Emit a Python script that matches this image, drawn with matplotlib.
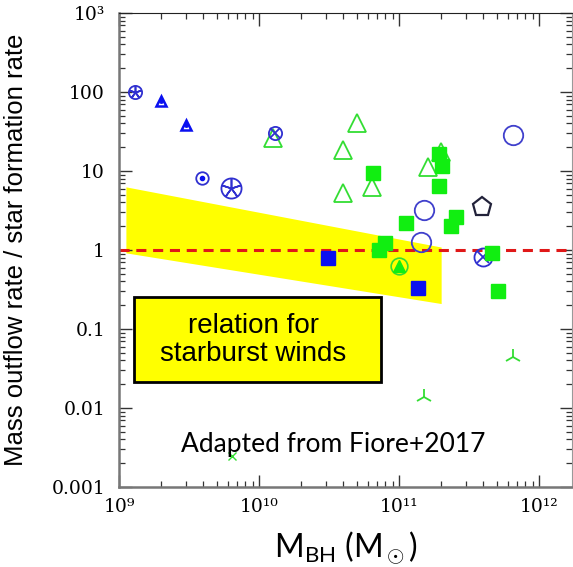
import numpy as np
import matplotlib
matplotlib.use("Agg")
import matplotlib.pyplot as plt
from matplotlib.patches import Rectangle
from matplotlib.ticker import LogLocator, NullFormatter, FixedLocator, FixedFormatter

plt.rcParams['mathtext.fontset'] = 'custom'
plt.rcParams['mathtext.rm'] = 'Lato'
plt.rcParams['mathtext.it'] = 'Lato:italic'

# ---- data (M_BH in Msun, ratio) ----
blue_circ_star_x = [1.3e9, 6.3e9]
blue_circ_star_y = [100, 6.1]
blue_circ_star_ms = [9.5, 14.5]

blue_tri_dot_x = [2.0e9, 3.0e9]
blue_tri_dot_y = [77, 38]

blue_circ_dot_x = [3.9e9]
blue_circ_dot_y = [8.1]

blue_circ_x_x = [1.3e10, 4.0e11]
blue_circ_x_y = [30, 0.81]
blue_circ_x_ms = [9.5, 13]

green_tri_x = [1.26e10, 5.0e10, 4.0e10, 4.0e10, 6.4e10, 1.6e11, 2.0e11]
green_tri_y = [26, 40, 18.5, 5.3, 6.3, 11.2, 17.4]

green_sq_x = [6.5e10, 1.93e11, 2.04e11, 1.93e11, 1.12e11, 2.55e11, 2.35e11,
              7.9e10, 7.2e10, 4.6e11, 5.1e11]
green_sq_y = [9.4, 16.4, 11.6, 6.5, 2.2, 2.6, 2.0, 1.23, 1.0, 0.92, 0.30]

blue_open_x = [6.5e11, 1.5e11, 1.44e11]
blue_open_y = [28.6, 3.2, 1.26]

blue_sq_x = [3.1e10, 1.37e11]
blue_sq_y = [0.79, 0.33]

pent_x = [3.9e11]
pent_y = [3.5]

green_circ_tri_x = [1.0e11]
green_circ_tri_y = [0.63]

green_tristar_x = [6.5e11, 1.5e11]
green_tristar_y = [0.044, 0.0138]

green_cross_x = [6.4e9]
green_cross_y = [0.0025]

# starburst-wind band
band_x = [1.12e9, 2.0e11]
band_top = [6.3, 1.09]
band_bot = [0.92, 0.21]

xticks = [1e9, 1e10, 1e11, 1e12]
xtick_labels = ['10⁹', '10¹⁰', '10¹¹', '10¹²']
yticks = [1e-3, 1e-2, 1e-1, 1, 10, 100, 1000]
ytick_labels = ['0.001', '0.01', '0.1', '1', '10', '100', '10³']

BLUE = '#3030d0'
BLUE_F = '#0a10f0'
GREEN = '#33dd33'
GREEN_F = '#11ee11'

fig = plt.figure(figsize=(5.73, 5.67), dpi=100)
ax = fig.add_axes([119/573, 80/567, 453/573, 474/567])
ax.set_xscale('log')
ax.set_yscale('log')
ax.set_xlim(1e9, 10**(9 + 453/140))
ax.set_ylim(1e-3, 1e3)

ax.fill_between(band_x, band_bot, band_top, color='#ffff00', lw=0, zorder=1)
ax.axhline(1, color='#e01818', lw=2.2, ls=(0, (3.3, 2.2)), zorder=2)

# composite markers
for x, y, ms in zip(blue_circ_star_x, blue_circ_star_y, blue_circ_star_ms):
    ax.plot(x, y, 'o', ms=ms, mfc='none', mec=BLUE, mew=1.3, zorder=3)
    ax.plot(x, y, marker=(5, 2, 0), ms=ms, mec=BLUE, mew=1.2, zorder=3)
ax.plot(blue_tri_dot_x, blue_tri_dot_y, '^', ms=7, mfc='none', mec=BLUE_F, mew=1.8, ls='none', zorder=3)
ax.plot(blue_tri_dot_x, blue_tri_dot_y, 'o', ms=2.5, color=BLUE_F, ls='none', zorder=3)
ax.plot(blue_circ_dot_x, blue_circ_dot_y, 'o', ms=9, mfc='none', mec=BLUE, mew=1.3, ls='none', zorder=3)
ax.plot(blue_circ_dot_x, blue_circ_dot_y, 'o', ms=3, color=BLUE_F, ls='none', zorder=3)
ax.plot(green_tri_x, green_tri_y, '^', ms=13, mfc='none', mec=GREEN, mew=1.3, ls='none', zorder=3)
for x, y, ms in zip(blue_circ_x_x, blue_circ_x_y, blue_circ_x_ms):
    ax.plot(x, y, 'o', ms=ms, mfc='none', mec=BLUE, mew=1.3, zorder=3)
    ax.plot(x, y, 'x', ms=ms * 0.7, mec=BLUE, mew=1.3, zorder=3)
ax.plot(green_sq_x, green_sq_y, 's', ms=10.5, color=GREEN_F, ls='none', zorder=3)
ax.plot(blue_open_x, blue_open_y, 'o', ms=14, mfc='none', mec='#4040cc', mew=1.3, ls='none', zorder=3)
ax.plot(blue_sq_x, blue_sq_y, 's', ms=10, color=BLUE_F, ls='none', zorder=3)
ax.plot(pent_x, pent_y, 'p', ms=14, mfc='none', mec='#22223a', mew=1.6, ls='none', zorder=3)
ax.plot(green_circ_tri_x, green_circ_tri_y, 'o', ms=12, mfc='none', mec=GREEN, mew=1.2, ls='none', zorder=3)
ax.plot(green_circ_tri_x, green_circ_tri_y, '^', ms=8, color=GREEN_F, ls='none', zorder=3)
ax.plot(green_tristar_x, green_tristar_y, '2', ms=12, mec=GREEN, mew=1.3, ls='none', zorder=3)
ax.plot(green_cross_x, green_cross_y, 'x', ms=6, mec=GREEN, mew=1.0, ls='none', zorder=3)

# starburst winds box
ax.add_patch(Rectangle((0.033, 0.2215), 0.545, 0.18, transform=ax.transAxes,
                       facecolor='#ffff00', edgecolor='black', lw=2, zorder=4))
ax.text(0.297, 0.311, 'relation for\nstarburst winds', transform=ax.transAxes,
        ha='center', va='center', fontsize=20, family='Liberation Sans',
        linespacing=1.1, zorder=5)
ax.text(0.472, 0.089, 'Adapted from Fiore+2017', transform=ax.transAxes,
        ha='center', va='center', fontsize=19, family='Lato', zorder=5)

# axes styling
ax.xaxis.set_major_locator(FixedLocator(xticks))
ax.xaxis.set_major_formatter(FixedFormatter(xtick_labels))
ax.xaxis.set_minor_locator(LogLocator(base=10, subs=np.arange(2, 10)))
ax.xaxis.set_minor_formatter(NullFormatter())
ax.yaxis.set_major_locator(FixedLocator(yticks))
ax.yaxis.set_major_formatter(FixedFormatter(ytick_labels))
ax.yaxis.set_minor_locator(LogLocator(base=10, subs=np.arange(2, 10)))
ax.yaxis.set_minor_formatter(NullFormatter())
ax.tick_params(which='both', direction='in', top=True, right=True, color='#333333')
ax.tick_params(which='major', length=9, width=1.0)
ax.tick_params(which='minor', length=4.5, width=0.9)
ax.tick_params(axis='y', pad=10)
ax.tick_params(axis='x', pad=8)
for lab in ax.get_xticklabels() + ax.get_yticklabels():
    lab.set_family('DejaVu Serif')
    lab.set_fontsize(13.5)
for side in ['left', 'bottom']:
    ax.spines[side].set_color('#777777')
    ax.spines[side].set_linewidth(1.8)
ax.spines['top'].set_color('#222222')
ax.spines['right'].set_color('#999999')

ax.set_ylabel('Mass outflow rate / star formation rate', fontsize=18.5, family='Liberation Sans')
ax.yaxis.set_label_coords(-0.2, 0.5)
ax.set_xlabel(r'M$_{\rm BH}$ (M$_\odot$)', fontsize=23, family='Lato')
ax.xaxis.set_label_coords(0.5, -0.09)

fig.savefig('out.png', dpi=100)
